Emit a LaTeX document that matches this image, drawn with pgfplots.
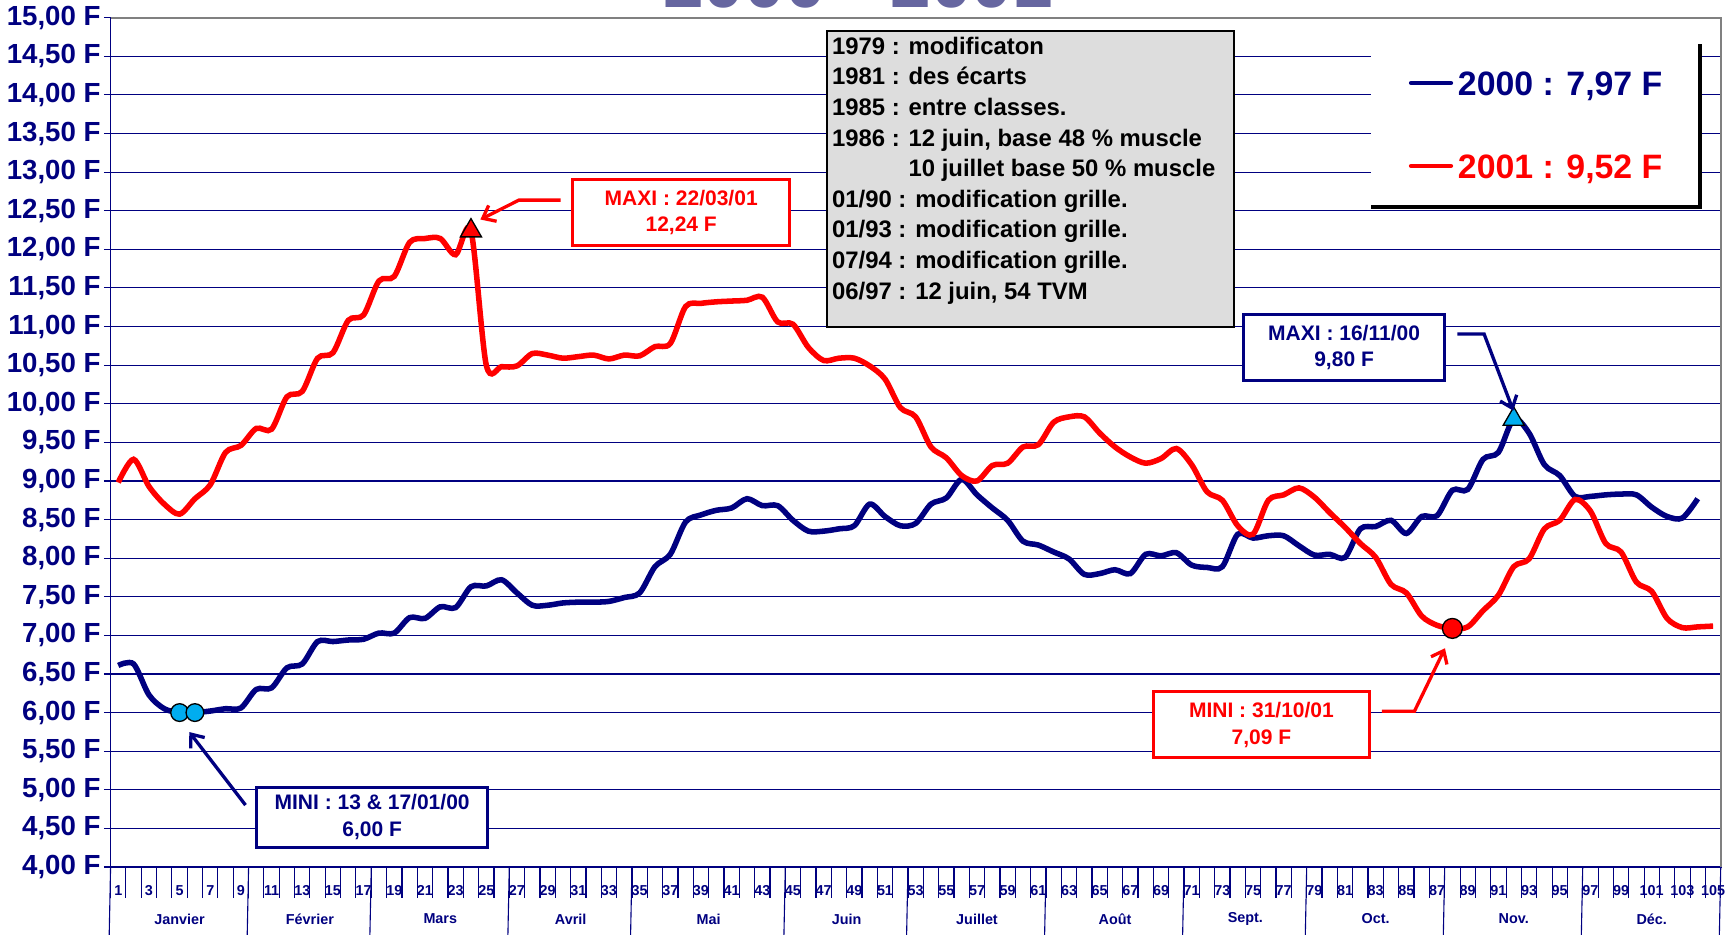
\documentclass[border=0pt]{standalone}
\usepackage{fontspec}
\setmainfont{Liberation Sans}
\usepackage{pgfplots}
\usepackage{pgfplotstable}
\pgfplotsset{compat=1.18}
\usetikzlibrary{arrows.meta}

\definecolor{navy}{RGB}{0,0,128}
\definecolor{titlec}{RGB}{102,102,160}
\definecolor{boxgray}{RGB}{221,221,221}
\definecolor{rimgray}{RGB}{128,128,128}

% semaine, prix 2000, prix 2001 (F)
\pgfplotstableread{
wk a2000 a2001
1 6.61 8.98
2 6.63 9.28
3 6.23 8.93
4 6.05 8.70
5 6.00 8.57
6 6.00 8.77
7 6.02 8.95
8 6.05 9.37
9 6.06 9.46
10 6.30 9.68
11 6.32 9.67
12 6.58 10.09
13 6.63 10.16
14 6.92 10.59
15 6.92 10.66
16 6.94 11.08
17 6.95 11.15
18 7.03 11.59
19 7.03 11.65
20 7.23 12.09
21 7.22 12.14
22 7.37 12.14
23 7.36 11.93
24 7.63 12.24
25 7.64 10.50
26 7.72 10.48
27 7.55 10.49
28 7.39 10.65
29 7.39 10.63
30 7.42 10.59
31 7.43 10.61
32 7.43 10.63
33 7.44 10.58
34 7.49 10.63
35 7.55 10.62
36 7.89 10.74
37 8.05 10.78
38 8.47 11.26
39 8.56 11.30
40 8.62 11.32
41 8.65 11.33
42 8.77 11.34
43 8.68 11.38
44 8.68 11.06
45 8.49 11.03
46 8.35 10.73
47 8.35 10.56
48 8.38 10.59
49 8.42 10.59
50 8.70 10.49
51 8.54 10.32
52 8.42 9.95
53 8.45 9.83
54 8.70 9.44
55 8.78 9.30
56 9.02 9.07
57 8.82 9.00
58 8.65 9.20
59 8.49 9.23
60 8.22 9.44
61 8.17 9.47
62 8.08 9.76
63 7.99 9.83
64 7.79 9.83
65 7.80 9.62
66 7.85 9.44
67 7.80 9.31
68 8.05 9.23
69 8.03 9.29
70 8.07 9.42
71 7.91 9.21
72 7.88 8.86
73 7.89 8.75
74 8.31 8.42
75 8.26 8.31
76 8.29 8.75
77 8.29 8.82
78 8.16 8.91
79 8.04 8.79
80 8.05 8.59
81 8.01 8.40
82 8.38 8.19
83 8.41 8.01
84 8.49 7.66
85 8.32 7.55
86 8.54 7.25
87 8.55 7.13
88 8.88 7.09
89 8.89 7.11
90 9.28 7.32
91 9.37 7.52
92 9.80 7.89
93 9.62 7.99
94 9.21 8.38
95 9.07 8.49
96 8.80 8.76
97 8.80 8.61
98 8.82 8.19
99 8.83 8.08
100 8.82 7.69
101 8.66 7.57
102 8.54 7.22
103 8.52 7.10
104 8.77 7.11
105 nan 7.12
}\prix

\begin{document}
\begin{tikzpicture}
\begin{axis}[
    at={(0,0)}, anchor=south west,
    scale only axis,
    width=728pt, height=384pt,
    xmin=0.5, xmax=105.5,
    ymin=4, ymax=15,
    ytick={4,4.5,...,15},
    xtick={1,3,...,105},
    minor xtick={0.5,1.5,...,105.5},
    xtick pos=bottom, ytick pos=left,
    tick align=outside,
    major tick length=3pt,
    minor tick length=14pt,
    major x tick style={draw=none},
    minor x tick style={draw=navy, line width=0.5pt},
    major y tick style={draw=navy, line width=0.5pt},
    ymajorgrids,
    major grid style={navy, line width=0.5pt},
    axis line style={navy, line width=0.7pt},
    /pgf/number format/assume math mode=true,
    yticklabel={\pgfmathprintnumber{\tick}~F},
    yticklabel style={font=\bfseries\fontsize{12.5}{14}\selectfont, text=navy,
        xshift=2pt,
        /pgf/number format/.cd, fixed, fixed zerofill, precision=2, use comma},
    xticklabel style={font=\bfseries\fontsize{6.5}{7}\selectfont, text=navy, yshift=-2pt},
    clip=false,
]
\addplot[navy, line width=2.5pt, smooth, tension=0.5, unbounded coords=discard]
    table[x=wk, y=a2000] {\prix};
\addplot[red, line width=2.5pt, smooth, tension=0.5]
    table[x=wk, y=a2001] {\prix};

% points remarquables
\addplot[only marks, mark=*, mark size=4pt, mark options={fill=cyan, draw=black, line width=0.6pt}]
    coordinates {(5,6.00) (6,6.00)};
\addplot[only marks, mark=triangle*, mark size=5.5pt, mark options={fill=cyan, draw=black, line width=0.6pt}]
    coordinates {(92,9.80)};
\addplot[only marks, mark=triangle*, mark size=5.5pt, mark options={fill=red, draw=black, line width=0.6pt}]
    coordinates {(24,12.24)};
\addplot[only marks, mark=*, mark size=4.5pt, mark options={fill=red, draw=black, line width=0.6pt}]
    coordinates {(88,7.09)};

% mois
\draw[navy, line width=0.5pt] (axis cs:0.5,4) -- ++(0,-30.5pt);
\draw[navy, line width=0.5pt] (axis cs:9.5,4) -- ++(0,-30.5pt);
\draw[navy, line width=0.5pt] (axis cs:17.5,4) -- ++(0,-30.5pt);
\draw[navy, line width=0.5pt] (axis cs:26.5,4) -- ++(0,-30.5pt);
\draw[navy, line width=0.5pt] (axis cs:34.5,4) -- ++(0,-30.5pt);
\draw[navy, line width=0.5pt] (axis cs:44.5,4) -- ++(0,-30.5pt);
\draw[navy, line width=0.5pt] (axis cs:52.5,4) -- ++(0,-30.5pt);
\draw[navy, line width=0.5pt] (axis cs:61.5,4) -- ++(0,-30.5pt);
\draw[navy, line width=0.5pt] (axis cs:70.5,4) -- ++(0,-30.5pt);
\draw[navy, line width=0.5pt] (axis cs:78.5,4) -- ++(0,-30.5pt);
\draw[navy, line width=0.5pt] (axis cs:87.5,4) -- ++(0,-30.5pt);
\draw[navy, line width=0.5pt] (axis cs:96.5,4) -- ++(0,-30.5pt);
\draw[navy, line width=0.5pt] (axis cs:105.5,4) -- ++(0,-30.5pt);
\begin{scope}[every node/.style={font=\bfseries\fontsize{6.5}{7}\selectfont, text=navy, yshift=-23.5pt}]
\node at (axis cs:5,4) {Janvier};
\node at (axis cs:13.5,4) {Février};
\node at (axis cs:22,4) {Mars};
\node at (axis cs:30.5,4) {Avril};
\node at (axis cs:39.5,4) {Mai};
\node at (axis cs:48.5,4) {Juin};
\node at (axis cs:57,4) {Juillet};
\node at (axis cs:66,4) {Août};
\node at (axis cs:74.5,4) {Sept.};
\node at (axis cs:83,4) {Oct.};
\node at (axis cs:92,4) {Nov.};
\node at (axis cs:101,4) {Déc.};
\end{scope}
\end{axis}

% bord gris haut et droit
\draw[rimgray, line width=1pt] (0,384pt) -- (728pt,384pt) -- (728pt,0);

% titre coupé en haut
\node[overlay, anchor=base, text=titlec, font=\bfseries\fontsize{33}{33}\selectfont] at (338pt,388.75pt) {2000 - 2001};

% encadré historique
\draw[black, line width=0.8pt, fill=boxgray] (324pt,244pt) rectangle (508pt,378pt);
\begin{scope}[every node/.style={anchor=base west, inner sep=0pt, font=\bfseries\fontsize{10.8}{13}\selectfont}]
\node at (326pt,367.5pt) {1979 : modificaton};
\node at (326pt,353.65pt) {1981 : des écarts};
\node at (326pt,339.8pt) {1985 : entre classes.};
\node at (326pt,325.95pt) {1986 : 12 juin, base 48 \% muscle};
\node at (326pt,312.1pt) {\phantom{1986 : }10 juillet base 50 \% muscle};
\node at (326pt,298.25pt) {01/90 : modification grille.};
\node at (326pt,284.4pt) {01/93 : modification grille.};
\node at (326pt,270.55pt) {07/94 : modification grille.};
\node at (326pt,256.7pt) {06/97 : 12 juin, 54 TVM};
\end{scope}

% légende
\fill[white] (570pt,298.5pt) rectangle (718.5pt,372pt);
\draw[black, line width=2pt] (570pt,298.5pt) -- (718.5pt,298.5pt) -- (718.5pt,372pt);
\draw[navy, line width=2pt, line cap=round] (588pt,354.5pt) -- (606pt,354.5pt);
\node[anchor=base west, inner sep=0pt, text=navy, font=\bfseries\fontsize{15.3}{17}\selectfont] at (609pt,349pt) {2000 : 7,97 F};
\draw[red, line width=2pt, line cap=round] (588pt,317pt) -- (606pt,317pt);
\node[anchor=base west, inner sep=0pt, text=red, font=\bfseries\fontsize{15.3}{17}\selectfont] at (609pt,311.5pt) {2001 : 9,52 F};

% étiquettes mini / maxi
\begin{scope}[every node/.style={fill=white, line width=1.3pt, align=center, inner sep=0pt, font=\bfseries\fontsize{9.5}{12}\selectfont}]
\node[draw=red, text=red, minimum width=98pt, minimum height=30pt] at (258pt,296pt) {MAXI : 22/03/01\\12,24 F};
\node[draw=navy, text=navy, minimum width=91pt, minimum height=30pt] at (557.7pt,234.9pt) {MAXI : 16/11/00\\9,80 F};
\node[draw=navy, text=navy, minimum width=104.5pt, minimum height=27pt] at (118.25pt,22.5pt) {MINI : 13 \& 17/01/00\\6,00 F};
\node[draw=red, text=red, minimum width=97.7pt, minimum height=29.8pt] at (520.35pt,64.3pt) {MINI : 31/10/01\\7,09 F};
\end{scope}
\draw[red, line width=1.5pt, -{Straight Barb[length=5pt, width=8pt]}] (203.5pt,301.5pt) -- (184.6pt,301.5pt) -- (167.2pt,292.75pt);
\draw[navy, line width=1.5pt, -{Straight Barb[length=5pt, width=8pt]}] (608.9pt,241pt) -- (621pt,241pt) -- (634.2pt,206.3pt);
\draw[navy, line width=1.5pt, -{Straight Barb[length=5pt, width=8pt]}] (61pt,28pt) -- (35.6pt,61pt);
\draw[red, line width=1.5pt, -{Straight Barb[length=5pt, width=8pt]}] (574.8pt,70.4pt) -- (589.5pt,70.4pt) -- (603.3pt,98.9pt);

\pgfresetboundingbox
\useasboundingbox (-50pt,-30.5pt) rectangle (734pt,392pt);
\end{tikzpicture}
\end{document}
